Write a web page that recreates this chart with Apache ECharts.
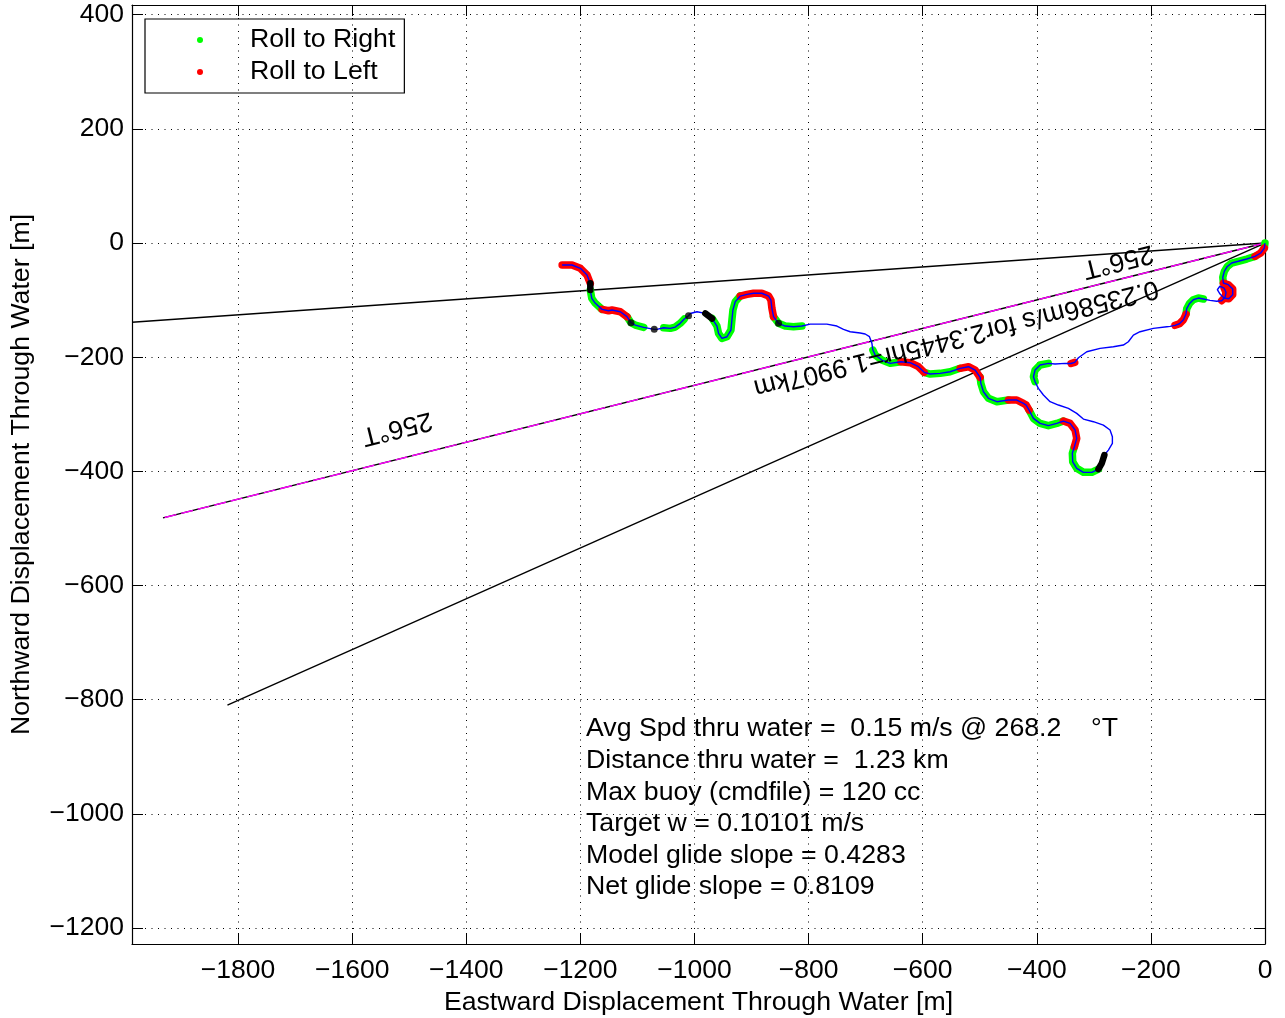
<!DOCTYPE html>
<html><head><meta charset="utf-8">
<script src="https://cdn.jsdelivr.net/npm/echarts@6/dist/echarts.min.js"></script>
<style>html,body{margin:0;padding:0;background:#fff}#c{width:1285px;height:1018px}</style>
</head><body><div id="c"></div>
<script>
// ---- data ----
const xTicks = [-1800, -1600, -1400, -1200, -1000, -800, -600, -400, -200, 0];
const yTicks = [400, 200, 0, -200, -400, -600, -800, -1000, -1200];
const xRange = [-1985.9, 0];
const yRange = [-1228, 417];

// bearing rays from origin (266, 256, 246 deg T), end points [m]
const rayEndEast  = [-1985.9, -1931.6, -1818.6];
const rayEndNorth = [-138.9, -481.6, -809.7];

// glider track through water [m]; roll state per segment: R=right, L=left, N=none, B=black
const trackEast = [0,-1.2,-7.5,-17.5,-32,-46.8,-58.4,-66,-71.3,-74,-73,-64.3,-56.6,-56.6,-63.6,-71.8,-78.8,-83.5,-78.8,-71.8,-68.3,-70,-75.9,-84.6,-96.4,-108,-116.9,-125.6,-132.6,-137.2,-138.4,-143,-150,-157.7,-166.4,-172,-195.7,-219,-230.7,-239.5,-248.3,-265.8,-289,-312.4,-327,-333.5,-340,-350.4,-368,-379.7,-394.2,-403,-405.9,-403,-397.2,-388.4,-376.7,-362.1,-344.6,-330,-318.3,-300.8,-283.3,-271.6,-267.5,-267.5,-274.5,-281.5,-286.1,-292,-303.6,-318.3,-330,-337,-337.7,-334.1,-330,-332.9,-341.6,-353.4,-365,-379.7,-394.2,-405.9,-413.5,-418.7,-423.4,-435,-449.7,-470,-484.8,-493.5,-498,-499.3,-508,-519.8,-534.4,-551.9,-569.4,-586.9,-597.4,-607.4,-622,-638.3,-657,-671.5,-683.3,-687.3,-689,-693.3,-700.8,-709.6,-727,-738.8,-750.4,-768,-797.2,-811.7,-826.4,-841,-852.7,-861.4,-864.3,-866,-870,-882,-896.5,-908,-919.8,-928.6,-932.6,-934.4,-936.1,-943.1,-951.9,-957.8,-960.6,-968.9,-981,-995.7,-1007.4,-1010.4,-1017.9,-1025,-1033.7,-1042.4,-1054,-1065.8,-1070.5,-1089,-1103.8,-1111.3,-1118.3,-1130,-1144.6,-1150.5,-1162,-1173.8,-1180,-1182.6,-1182.6,-1188.4,-1200,-1214.6,-1232];
const trackNorth = [0,-8.8,-17.5,-23.4,-28,-32,-35,-41,-49.6,-60,-70,-73,-80.6,-90.5,-97.6,-96.4,-89.4,-81.8,-75.3,-78.8,-86.4,-95,-101,-102,-100.4,-98,-96.4,-99.3,-106.3,-115,-124.4,-134.4,-141.4,-144.2,-146,-146.6,-149.5,-155.4,-161.2,-173,-178.7,-181.7,-184.5,-190.4,-201,-209,-211,-210.8,-212,-210.8,-213.7,-222.5,-234.2,-243,-254.6,-266.3,-278,-283.8,-289.6,-298.4,-308.4,-313,-318.9,-327.6,-339.4,-351,-362.7,-371.4,-386,-396,-401.7,-401.7,-394.7,-383.2,-368.4,-356.8,-342.2,-327.6,-316,-311.9,-316,-320,-316,-307.2,-292.6,-283.8,-280.9,-275,-275,-278,-272,-260.5,-245.8,-235.3,-222.5,-216.7,-219.5,-225.5,-228.3,-229.5,-226.5,-216.7,-209.7,-208,-210.8,-205,-196.2,-187.5,-175.7,-164,-159.4,-157.6,-155.4,-151.3,-145.4,-142,-142,-145.4,-146.6,-145.4,-140.7,-129,-114.4,-99.9,-92.9,-88,-88,-90,-92.9,-102.8,-117.4,-134.9,-152.4,-164.2,-167,-158.2,-145.4,-132.3,-123.2,-120.3,-123.5,-127.4,-133.2,-140.7,-147.2,-149.5,-148.4,-151.2,-151.2,-147.7,-143.7,-139.6,-129,-120.3,-117.4,-118.6,-116.2,-105.6,-96.9,-82.3,-70.6,-56,-44.3,-38.5,-38.5];
const trackRoll = ['R','L','L','R','R','R','R','R','R','R','L','L','L','L','L','N','N','N','N','L','L','L','N','N','N','R','R','R','R','R','L','L','L','N','N','N','N','N','N','N','N','N','N','N','N','L','N','N','N','R','R','R','R','N','N','N','N','N','N','N','N','N','N','N','N','N','N','B','B','R','R','R','R','R','R','L','L','L','L','R','R','R','R','R','L','L','L','L','R','R','R','R','R','L','L','L','R','R','R','R','L','L','L','R','R','R','R','N','N','N','N','N','N','N','N','N','N','R','R','R','R','L','L','L','L','L','L','L','R','R','R','R','R','R','R','R','R','B','N','N','N','N','R','R','R','R','N','N','N','R','R','R','L','L','L','L','R','R','R','B','L','L','L','L','L','N'];

const blackDotEast  = [-852.7, -1010.4, -1070.5, -1111.3];
const blackDotNorth = [-140.7, -127.4, -151.2, -139.6];

const legendNames = ['Roll to Right', 'Roll to Left'];
const xName = 'Eastward Displacement Through Water [m]';
const yName = 'Northward Displacement Through Water [m]';
const bearingLabel = '256\u00B0T';
const rayLabel = '0.23586m/s for2.3445hr=1.9907km';
const infoLines = [
  'Avg Spd thru water =  0.15 m/s @ 268.2    \u00B0T',
  'Distance thru water =  1.23 km',
  'Max buoy (cmdfile) = 120 cc',
  'Target w = 0.10101 m/s',
  'Model glide slope = 0.4283',
  'Net glide slope = 0.8109'
];

// ---- build ----
const FONT = 'Liberation Sans, Arial, Helvetica, sans-serif';
const FS = 26.7;
function runs(state) {
  const out = [];
  let open = false;
  for (let i = 0; i < trackRoll.length - 1; i++) {
    if (trackRoll[i] === state) {
      if (!open) out.push([trackEast[i], trackNorth[i]]);
      out.push([trackEast[i + 1], trackNorth[i + 1]]);
      open = true;
    } else if (open) { out.push(['-', '-']); open = false; }
  }
  return out;
}
const fmt = v => v < 0 ? '\u2212' + (-v) : String(v);
const pathData = trackEast.map((e, i) => [e, trackNorth[i]]);
const rays = rayEndEast.map((e, i) => ({
  type: 'line', data: [[0, 0], [e, rayEndNorth[i]]], symbol: 'none', silent: true,
  lineStyle: { color: '#000', width: 1.4 }, z: 2
}));
const dotted = { show: true, lineStyle: { color: '#000', width: 1, type: [1, 5.5] } };
function axisBase(extra) {
  return Object.assign({
    type: 'value', axisLine: { show: true, onZero: false, lineStyle: { color: '#000', width: 1.2 } },
    axisTick: { show: true, inside: true, length: 11, lineStyle: { color: '#000', width: 1 } },
    axisLabel: { show: false }, splitLine: { show: false }
  }, extra);
}
const grid = { left: 132, right: 20, top: 5, bottom: 74, containLabel: false, outerBoundsMode: 'none' };
const labelStyle = { color: '#000', fontSize: 26.5, fontFamily: FONT, formatter: fmt };

const option = {
  animation: false,
  backgroundColor: '#fff',
  grid: grid,
  legend: {
    orient: 'vertical', left: 145, top: 19, padding: [7.5, 9, 7.5, 52],
    itemWidth: 90, itemHeight: 6, itemGap: 5,
    borderColor: '#000', borderWidth: 1.2,
    textStyle: { color: '#000', fontSize: FS, fontFamily: FONT },
    itemStyle: { borderWidth: 0 },
    selectedMode: false,
    data: [
      { name: legendNames[0], icon: 'circle', itemStyle: { color: '#00ff00' } },
      { name: legendNames[1], icon: 'circle', itemStyle: { color: '#ff0000' } }
    ]
  },
  xAxis: [
    axisBase({
      position: 'bottom', min: xRange[0], max: xRange[1],
      axisTick: { show: true, inside: true, length: 11, customValues: xTicks, lineStyle: { color: '#000', width: 1 } },
      axisLabel: Object.assign({ show: true, margin: 13, customValues: xTicks }, labelStyle),
      splitLine: dotted,
      name: xName, nameLocation: 'middle', nameGap: 43,
      nameTextStyle: { color: '#000', fontSize: FS, fontFamily: FONT }
    }),
    axisBase({
      position: 'top', min: xRange[0], max: xRange[1],
      axisTick: { show: true, inside: true, length: 11, customValues: xTicks, lineStyle: { color: '#000', width: 1 } }
    })
  ],
  yAxis: [
    axisBase({
      position: 'left', min: yRange[0], max: yRange[1],
      axisTick: { show: true, inside: true, length: 11, customValues: yTicks, lineStyle: { color: '#000', width: 1 } },
      axisLabel: Object.assign({ show: true, margin: 8, customValues: yTicks }, labelStyle),
      splitLine: dotted,
      name: yName, nameLocation: 'middle', nameGap: 97, nameRotate: 90,
      nameTextStyle: { color: '#000', fontSize: FS, fontFamily: FONT }
    }),
    axisBase({
      position: 'right', min: yRange[0], max: yRange[1],
      axisTick: { show: true, inside: true, length: 11, customValues: yTicks, lineStyle: { color: '#000', width: 1 } }
    })
  ],
  series: rays.concat([
    {
      type: 'line', data: [[0, 0], [rayEndEast[1], rayEndNorth[1]]], symbol: 'none', silent: true,
      lineStyle: { color: '#ff00ff', width: 1.4, type: [12, 5] }, z: 3
    },
    {
      name: legendNames[0], type: 'line', data: runs('R'), symbol: 'none', connectNulls: false,
      itemStyle: { color: '#00ff00' },
      lineStyle: { color: '#00ff00', width: 7.5, cap: 'round', join: 'round' }, z: 4
    },
    {
      name: legendNames[1], type: 'line', data: runs('L'), symbol: 'none', connectNulls: false,
      itemStyle: { color: '#ff0000' },
      lineStyle: { color: '#ff0000', width: 7.5, cap: 'round', join: 'round' }, z: 5
    },
    {
      type: 'line', data: pathData, symbol: 'none',
      lineStyle: { color: '#0000ff', width: 1.4 }, z: 6
    },
    {
      type: 'line', data: runs('B'), symbol: 'none', connectNulls: false,
      lineStyle: { color: '#000', width: 6.5, cap: 'round', join: 'round' }, z: 7
    },
    {
      type: 'scatter', data: blackDotEast.map((e, i) => [e, blackDotNorth[i]]),
      symbol: 'circle', symbolSize: 7, itemStyle: { color: '#000' }, z: 8
    }
  ]),
  graphic: [
    { type: 'text', x: 397, y: 428, rotation: 194 * Math.PI / 180, z: 100,
      style: { text: bearingLabel, fill: '#000', font: FS + 'px ' + FONT, textAlign: 'center', textVerticalAlign: 'middle', align: 'center', verticalAlign: 'middle' } },
    { type: 'text', x: 1118, y: 261, rotation: 194 * Math.PI / 180, z: 100,
      style: { text: bearingLabel, fill: '#000', font: FS + 'px ' + FONT, textAlign: 'center', textVerticalAlign: 'middle', align: 'center', verticalAlign: 'middle' } },
    { type: 'text', x: 956, y: 338, rotation: 194 * Math.PI / 180, z: 100,
      style: { text: rayLabel, fill: '#000', font: FS + 'px ' + FONT, textAlign: 'center', textVerticalAlign: 'middle', align: 'center', verticalAlign: 'middle' } }
  ].concat(infoLines.map((t, i) => ({
    type: 'text', x: 586, y: 729 + i * 31.6, z: 100,
    style: { text: t, fill: '#000', font: FS + 'px ' + FONT, textAlign: 'left', textVerticalAlign: 'middle', align: 'left', verticalAlign: 'middle' }
  })))
};
const chart = echarts.init(document.getElementById('c'), null, { renderer: 'canvas' });
chart.setOption(option);
</script>
</body></html>
